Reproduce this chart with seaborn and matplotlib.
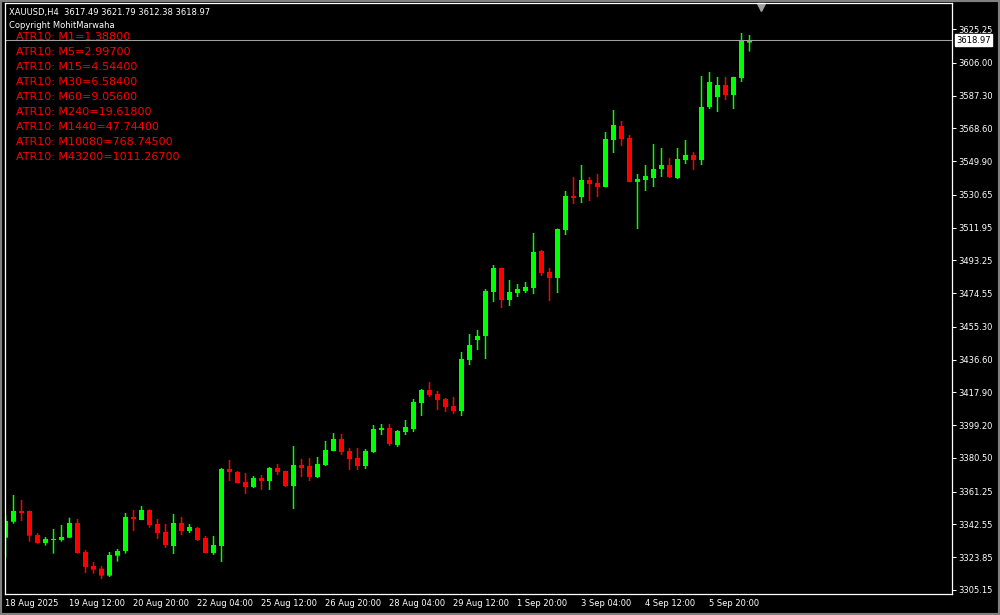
import numpy as np
import pandas as pd
import matplotlib
matplotlib.use('Agg')
import matplotlib.pyplot as plt
import matplotlib.transforms as mtransforms
from matplotlib.patches import Rectangle
import seaborn as sns

# ----------------- data -----------------
opens = [3334.99, 3344.12, 3350.22, 3350.22, 3336.53, 3331.97, 3333.68, 3333.68, 3334.99, 3343.38,
         3326.83, 3318.85, 3317.31, 3313.32, 3324.72, 3327.40, 3346.80, 3345.09, 3350.79, 3342.81,
         3338.24, 3330.26, 3343.38, 3338.81, 3340.53, 3334.82, 3326.26, 3330.26, 3374.19, 3372.48,
         3366.77, 3363.92, 3369.05, 3367.34, 3374.76, 3373.05, 3364.49, 3376.47, 3375.90, 3369.62,
         3376.47, 3384.46, 3391.31, 3384.46, 3380.47, 3375.90, 3383.89, 3396.44, 3397.58, 3387.90,
         3395.30, 3397.01, 3411.85, 3419.27, 3416.98, 3414.13, 3410.14, 3407.28, 3436.38, 3447.80,
         3450.08, 3475.18, 3488.88, 3470.62, 3474.61, 3475.75, 3477.47, 3498.58, 3486.60, 3483.19,
         3510.56, 3529.96, 3529.39, 3539.09, 3537.38, 3535.09, 3561.92, 3569.90, 3563.06, 3537.95,
         3539.09, 3540.23, 3545.37, 3547.65, 3540.23, 3550.50, 3553.36, 3550.50, 3580.75, 3586.45,
         3593.30, 3587.59, 3597.29, 3617.49]
highs = [3347.94, 3359.35, 3356.50, 3350.50, 3337.67, 3335.39, 3339.95, 3342.24, 3346.40, 3345.66,
         3327.97, 3321.13, 3318.85, 3326.83, 3328.55, 3349.08, 3350.79, 3353.08, 3351.20, 3345.66,
         3342.81, 3348.51, 3346.80, 3342.81, 3341.10, 3335.96, 3335.96, 3374.76, 3379.32, 3373.05,
         3371.91, 3370.19, 3370.77, 3375.33, 3377.04, 3373.30, 3387.31, 3379.89, 3380.47, 3381.04,
         3390.17, 3394.73, 3394.16, 3386.17, 3386.17, 3385.60, 3399.29, 3399.87, 3399.87, 3396.44,
         3402.15, 3414.13, 3419.84, 3423.83, 3418.70, 3414.70, 3415.27, 3440.95, 3451.22, 3453.50,
         3476.89, 3490.59, 3489.20, 3482.03, 3479.75, 3480.89, 3508.85, 3499.15, 3488.88, 3511.40,
         3532.81, 3540.80, 3547.65, 3540.80, 3542.52, 3566.48, 3579.03, 3572.76, 3564.77, 3542.52,
         3547.65, 3559.63, 3557.35, 3551.65, 3557.35, 3561.92, 3555.07, 3598.43, 3600.72, 3597.86,
         3597.86, 3598.00, 3622.97, 3621.79]
lows = [3323.58, 3342.98, 3344.52, 3332.71, 3331.57, 3330.43, 3325.86, 3332.71, 3334.80, 3325.86,
        3314.86, 3314.46, 3311.44, 3312.58, 3321.30, 3325.86, 3338.81, 3345.00, 3340.70, 3334.25,
        3329.12, 3325.69, 3336.53, 3337.67, 3333.11, 3326.00, 3325.12, 3321.13, 3367.34, 3366.00,
        3359.93, 3363.35, 3362.21, 3362.21, 3370.77, 3363.92, 3351.37, 3369.62, 3367.34, 3369.05,
        3375.90, 3384.30, 3382.18, 3373.62, 3373.62, 3374.19, 3383.32, 3393.59, 3387.31, 3386.74,
        3393.59, 3395.30, 3404.43, 3415.27, 3407.85, 3406.71, 3405.57, 3404.43, 3433.53, 3442.09,
        3436.96, 3469.48, 3466.05, 3467.20, 3472.33, 3474.61, 3474.04, 3484.31, 3470.05, 3474.61,
        3507.71, 3525.40, 3525.97, 3527.11, 3529.39, 3534.90, 3554.50, 3558.49, 3537.80, 3511.13,
        3532.81, 3535.09, 3540.80, 3540.23, 3539.66, 3548.22, 3544.80, 3547.65, 3579.60, 3577.89,
        3584.74, 3579.60, 3595.01, 3612.38]
closes = [3344.52, 3350.22, 3349.08, 3336.13, 3331.97, 3334.25, 3334.25, 3335.39, 3343.38, 3326.26,
          3318.28, 3316.74, 3313.32, 3325.12, 3327.40, 3346.80, 3345.66, 3350.79, 3342.24, 3337.67,
          3330.83, 3343.38, 3338.81, 3341.10, 3333.68, 3326.26, 3330.83, 3374.19, 3372.48, 3366.20,
          3363.92, 3369.05, 3367.34, 3374.76, 3372.48, 3364.49, 3376.47, 3374.76, 3369.62, 3377.04,
          3385.03, 3391.31, 3383.89, 3379.89, 3375.90, 3384.46, 3397.01, 3397.58, 3388.46, 3395.87,
          3398.15, 3412.42, 3419.27, 3416.41, 3413.56, 3409.57, 3407.28, 3436.96, 3444.94, 3450.08,
          3475.75, 3488.88, 3470.62, 3475.18, 3476.89, 3478.04, 3498.01, 3486.03, 3483.19, 3511.13,
          3529.96, 3528.82, 3539.09, 3536.81, 3535.09, 3562.49, 3570.47, 3562.49, 3537.95, 3539.66,
          3541.37, 3545.37, 3547.65, 3540.80, 3551.07, 3553.36, 3550.50, 3580.75, 3595.01, 3593.30,
          3587.59, 3597.86, 3618.41, 3618.97]

date_tick_bars = [0, 8, 16, 24, 32, 40, 48, 56, 64, 72, 80, 88]
date_labels = ['18 Aug 2025', '19 Aug 12:00', '20 Aug 20:00', '22 Aug 04:00', '25 Aug 12:00',
               '26 Aug 20:00', '28 Aug 04:00', '29 Aug 12:00', '1 Sep 20:00', '3 Sep 04:00',
               '4 Sep 12:00', '5 Sep 20:00']
price_ticks = [3625.25, 3606.00, 3587.30, 3568.60, 3549.90, 3530.65, 3511.95, 3493.25, 3474.55,
               3455.30, 3436.60, 3417.90, 3399.20, 3380.50, 3361.25, 3342.55, 3323.85, 3305.15]

atr_periods = ['M1', 'M5', 'M15', 'M30', 'M60', 'M240', 'M1440', 'M10080', 'M43200']
atr_values = [1.38800, 2.99700, 4.54400, 6.58400, 9.05600, 19.61800, 47.74400, 768.74500, 1011.26700]

bid = 3618.97

#%% ----------------- build frame -----------------
candles = pd.DataFrame({'open': opens, 'high': highs, 'low': lows, 'close': closes})
candles['bar'] = np.arange(len(candles))
candles['bull'] = candles['close'] >= candles['open']
candles['color'] = np.where(candles['bull'], '#00ff00', '#ff0000')
candles['body_low'] = candles[['open', 'close']].min(axis=1)
candles['body_h'] = (candles['close'] - candles['open']).abs().clip(lower=0.6)

#%% ----------------- plot -----------------
sns.set_theme(style='dark', rc={'axes.facecolor': 'black', 'figure.facecolor': 'black',
                                'axes.edgecolor': 'white', 'axes.grid': False})
plt.rcParams['font.family'] = ['DejaVu Sans']

fig = plt.figure(figsize=(10, 6.15), dpi=100)
ax = fig.add_axes([0.005, 21 / 615, 0.947, 591 / 615])

# wicks (~1.5 px) then bodies (5 px); 8 px per bar
wicks = ax.bar(candles['bar'], candles['high'] - candles['low'], bottom=candles['low'],
               width=0.1875, color=candles['color'], linewidth=0)
bodies = ax.bar(candles['bar'], candles['body_h'], bottom=candles['body_low'], width=0.625,
                color=candles['color'], linewidth=0)
for patch in list(wicks) + list(bodies):
    patch.set_snap(False)

# bid line
ax.axhline(bid, color='#a0a0a0', linewidth=0.75)

ax.set_xlim(-0.0625, 118.3125)
ax.set_ylim(3302.86, 3640.09)

for s in ax.spines.values():
    s.set_color('white')
    s.set_linewidth(0.9)

# price axis on the right
ax.yaxis.tick_right()
ax.set_yticks(price_ticks)
ax.set_yticklabels([f'{p:.2f}' for p in price_ticks])
ax.tick_params(axis='y', direction='out', length=3, width=0.75, colors='white',
               labelsize=6, pad=1.5, left=False, right=True)

# time axis, labels start at the tick
ax.set_xticks(date_tick_bars)
ax.set_xticklabels(date_labels)
ax.tick_params(axis='x', direction='out', length=2.5, width=0.75, colors='white',
               labelsize=6, pad=1)
shift = mtransforms.ScaledTranslation(-0.7 / 72, 0, fig.dpi_scale_trans)
for lab in ax.get_xticklabels():
    lab.set_horizontalalignment('left')
    lab.set_transform(lab.get_transform() + shift)

# current price label
trans = mtransforms.blended_transform_factory(ax.transAxes, ax.transData)
ax.text(1.0, bid, f'{bid:.2f}', transform=trans + mtransforms.ScaledTranslation(3 / 72, 0, fig.dpi_scale_trans),
        ha='left', va='center', fontsize=6, color='black',
        bbox=dict(boxstyle='square,pad=0.15', facecolor='white', edgecolor='white'))

# chart shift marker
ax.plot([94.5], [3637.6], marker='v', markersize=6, color='#a0a0a0', clip_on=False)

# header texts
fig.text(9 / 1000, 1 - 13 / 615, 'XAUUSD,H4  3617.49 3621.79 3612.38 3618.97',
         color='white', fontsize=6, ha='left', va='center')
fig.text(9 / 1000, 1 - 26 / 615, 'Copyright MohitMarwaha',
         color='white', fontsize=6, ha='left', va='center')

# ATR readings
for i, (per, val) in enumerate(zip(atr_periods, atr_values)):
    fig.text(16 / 1000, 1 - (36.7 + 15 * i) / 615, f'ATR10: {per}={val:.5f}',
             color='#ff0000', fontsize=8, ha='left', va='center')

# window border
fig.add_artist(Rectangle((0, 0), 1, 1, transform=fig.transFigure, fill=False,
                         edgecolor='#808080', linewidth=3))

fig.savefig('out.png', dpi=100, facecolor='black')
